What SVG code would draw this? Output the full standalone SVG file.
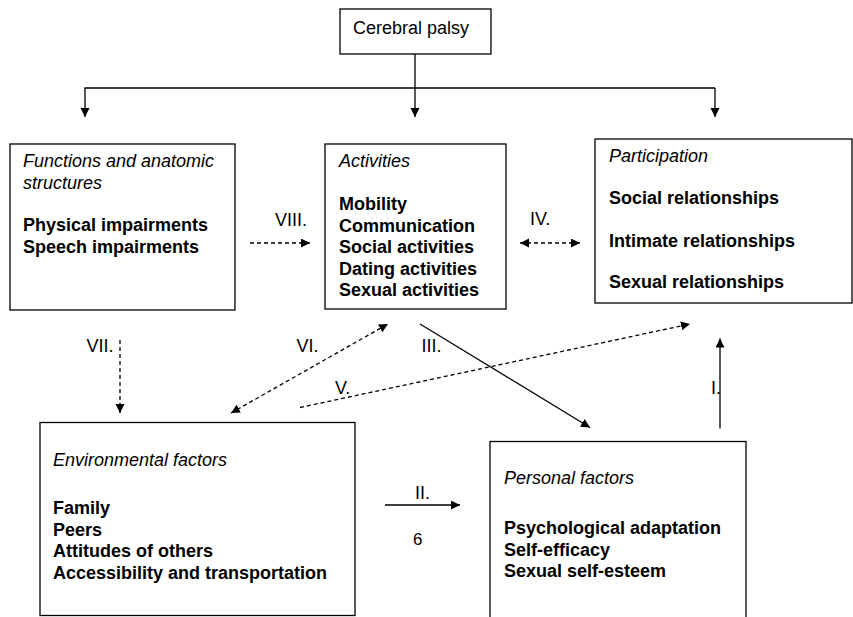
<svg xmlns="http://www.w3.org/2000/svg" width="853" height="617" viewBox="0 0 853 617">
<style>
  .box { fill: #fff; stroke: #000; stroke-width: 1.3; }
  text { font-family: "Liberation Sans", Arial, sans-serif; font-size: 18px; fill: #000; }
  .it { font-style: italic; }
  .b { font-weight: bold; }
  .ln { fill: none; stroke: #000; stroke-width: 1.3; }
  .dash { stroke-dasharray: 4 3; }
  .arr { marker-end: url(#ah); }
  .arr2 { marker-start: url(#ahs); marker-end: url(#ah); }
</style>
<defs>
  <marker id="ah" markerUnits="userSpaceOnUse" markerWidth="10" markerHeight="10" refX="9" refY="4.5" orient="auto">
    <path d="M0,0 L9,4.5 L0,9 Z" fill="#000"/>
  </marker>
  <marker id="ahs" markerUnits="userSpaceOnUse" markerWidth="10" markerHeight="10" refX="9" refY="4.5" orient="auto-start-reverse">
    <path d="M0,0 L9,4.5 L0,9 Z" fill="#000"/>
  </marker>
</defs>
<rect width="853" height="617" fill="#fff"/>

<g id="connectors">
  <line class="ln" x1="415" y1="54" x2="415" y2="117" style="marker-end:url(#ah)"/>
  <polyline class="ln" points="715,88 85,88 85,117" style="marker-end:url(#ah)"/>
  <polyline class="ln" points="715,88 715,117" style="marker-end:url(#ah)"/>
  <line class="ln dash arr" x1="250" y1="243" x2="310" y2="243"/>
  <line class="ln dash arr2" x1="520" y1="243" x2="580" y2="243"/>
  <line class="ln dash arr" x1="120" y1="340" x2="120" y2="413"/>
  <line class="ln dash arr2" x1="231" y1="413" x2="388" y2="324"/>
  <line class="ln dash arr" x1="300" y1="407.5" x2="690" y2="324"/>
  <line class="ln arr" x1="420" y1="324" x2="590" y2="427.5"/>
  <line class="ln arr" x1="720" y1="428.5" x2="720" y2="338.5"/>
  <line class="ln arr" x1="385" y1="505" x2="460" y2="505"/>
  <text x="275" y="226">VIII.</text>
  <text x="530" y="225">IV.</text>
  <text x="86.5" y="352">VII.</text>
  <text x="296.5" y="352">VI.</text>
  <text x="421.5" y="351.5">III.</text>
  <text x="335" y="394">V.</text>
  <text x="711" y="394">I.</text>
  <text x="415" y="498.5">II.</text>
  <text x="413" y="545" style="font-size:17px">6</text>
</g>

<g id="cerebral-palsy">
  <rect class="box" x="340" y="9" width="151" height="45"/>
  <text x="353" y="33.5">Cerebral palsy</text>
</g>

<g id="functions">
  <rect class="box" x="10" y="144" width="225" height="166"/>
  <text class="it" x="23" y="167">Functions and anatomic</text>
  <text class="it" x="23" y="188.5">structures</text>
  <text class="b" x="23" y="230.5">Physical impairments</text>
  <text class="b" x="23" y="252.5">Speech impairments</text>
</g>

<g id="activities">
  <rect class="box" x="325" y="144" width="181" height="165"/>
  <text class="it" x="339" y="167">Activities</text>
  <text class="b" x="339" y="210">Mobility</text>
  <text class="b" x="339" y="231.5">Communication</text>
  <text class="b" x="339" y="253">Social activities</text>
  <text class="b" x="339" y="274.5">Dating activities</text>
  <text class="b" x="339" y="296">Sexual activities</text>
</g>

<g id="participation">
  <rect class="box" x="595" y="139" width="257" height="164"/>
  <text class="it" x="609" y="162">Participation</text>
  <text class="b" x="609" y="204">Social relationships</text>
  <text class="b" x="609" y="247">Intimate relationships</text>
  <text class="b" x="609" y="288">Sexual relationships</text>
</g>

<g id="environmental">
  <rect class="box" x="40" y="422.5" width="315" height="193"/>
  <text class="it" x="53" y="465.5">Environmental factors</text>
  <text class="b" x="53" y="514">Family</text>
  <text class="b" x="53" y="535.5">Peers</text>
  <text class="b" x="53" y="557">Attitudes of others</text>
  <text class="b" x="53" y="578.5">Accessibility and transportation</text>
</g>

<g id="personal">
  <rect class="box" x="490" y="441.5" width="256" height="200"/>
  <text class="it" x="504" y="484">Personal factors</text>
  <text class="b" x="504" y="534">Psychological adaptation</text>
  <text class="b" x="504" y="555.5">Self-efficacy</text>
  <text class="b" x="504" y="577">Sexual self-esteem</text>
</g>
</svg>
